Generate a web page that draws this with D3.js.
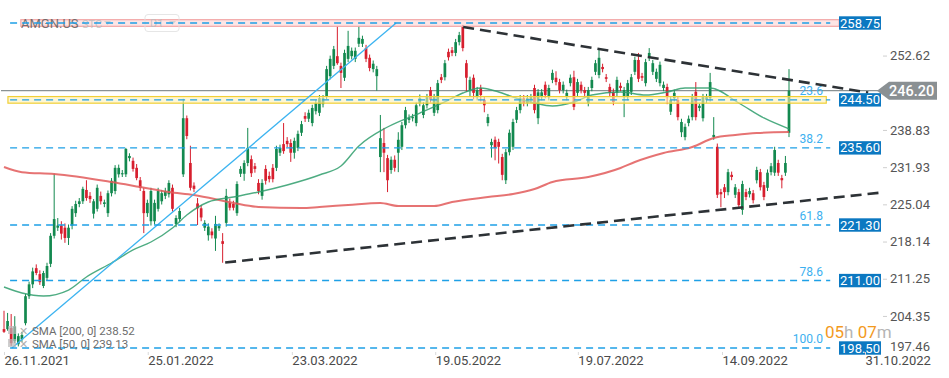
<!DOCTYPE html>
<html><head><meta charset="utf-8">
<script src="https://cdnjs.cloudflare.com/ajax/libs/d3/7.8.5/d3.min.js"></script>
<style>body{margin:0;background:#fff;}svg{display:block;font-family:Roboto,"Noto Sans",sans-serif;}</style>
</head><body><svg id="c" width="949" height="378"></svg>
<script>
// ---- data ----
const opens = [202.0,202.0,202.2,199.8,199.2,200.1,203.1,208.1,210.3,213.3,212.2,210.0,211.5,214.1,219.3,220.8,221.2,220.8,218.9,221.2,
223.5,225.2,225.7,227.8,226.7,223.4,224.3,226.7,225.2,223.5,227.2,227.6,230.7,230.7,230.7,233.7,233.2,231.9,229.6,227.6,
223.5,222.0,222.0,224.3,225.7,226.7,227.0,228.2,221.5,222.4,230.7,241.1,232.8,228.6,225.3,224.4,220.8,219.4,220.1,218.8,
220.7,218.3,221.7,225.4,225.2,223.5,230.8,230.8,232.8,233.5,232.2,229.1,226.7,231.7,230.4,231.9,231.9,234.7,236.3,236.9,
236.5,234.7,235.6,238.4,241.5,241.0,240.2,242.4,242.1,243.7,245.2,248.9,250.8,252.6,250.8,248.6,252.1,252.6,252.1,254.9,
254.9,254.1,252.3,250.2,248.9,233.9,236.5,233.7,231.5,233.4,234.7,235.8,239.8,240.8,241.1,240.2,243.9,241.7,243.5,246.3,
242.1,242.6,248.7,248.7,253.4,253.7,253.2,255.2,258.0,251.3,246.3,248.6,245.0,246.7,244.5,240.2,236.1,237.1,236.7,233.9,
229.6,234.8,235.8,240.8,242.6,244.8,243.9,244.5,246.7,241.1,245.0,247.3,245.0,248.2,248.6,247.8,246.3,245.0,247.6,248.7,
245.8,247.3,246.3,243.9,246.7,249.7,249.1,250.6,248.7,246.9,246.0,245.8,247.1,245.0,245.0,246.0,249.7,251.9,248.9,247.6,
252.3,249.7,248.4,247.6,246.7,246.9,242.3,244.8,244.5,238.5,237.6,240.2,241.3,246.0,243.0,241.1,244.5,244.8,237.6,235.8,
227.4,228.3,227.4,230.6,226.9,227.4,224.1,227.4,227.0,227.2,229.6,231.1,228.7,228.2,231.1,231.0,232.8,230.0,231.0,238.4];
const highs = [205.4,205.0,204.8,204.4,201.2,201.5,208.5,210.8,213.4,214.0,212.9,212.8,214.3,219.8,230.8,222.6,222.0,221.6,221.4,224.8,
225.8,226.3,228.4,229.6,227.4,226.1,228.8,227.5,226.0,227.7,230.0,232.4,232.5,231.5,235.6,234.6,233.8,232.6,230.2,228.2,
226.0,228.2,226.0,228.2,227.8,228.2,229.6,228.8,223.1,224.5,244.7,241.6,236.0,229.2,226.3,225.0,222.2,221.6,220.7,223.0,
221.6,219.8,228.0,226.2,225.8,229.4,232.2,233.3,239.3,234.2,232.8,229.8,229.8,232.4,231.2,232.6,236.0,236.2,240.2,237.6,
237.2,237.5,238.8,240.6,242.2,242.7,243.6,244.5,245.4,245.4,250.8,252.7,254.5,258.2,251.4,253.8,257.3,254.2,254.2,258.2,
256.4,254.7,252.9,251.8,250.8,241.7,239.3,234.3,234.0,234.2,238.5,240.4,243.2,241.8,241.9,244.0,245.5,244.1,245.6,246.9,
245.6,248.2,249.3,251.9,254.0,254.3,255.8,257.1,258.4,251.9,248.8,249.2,246.9,247.3,245.1,241.9,237.3,237.7,237.3,234.5,
235.4,239.0,241.0,243.2,245.4,245.4,245.4,245.6,247.3,246.5,246.5,247.9,247.3,250.1,249.8,248.4,247.9,246.4,249.2,249.9,
248.4,247.9,246.9,246.9,248.8,251.9,253.9,251.2,249.3,247.5,246.6,248.8,247.7,246.9,248.2,249.3,252.5,253.2,249.5,252.1,
254.1,251.9,250.3,251.6,247.9,247.5,245.1,246.4,245.1,241.0,240.1,241.6,245.6,247.8,243.8,245.6,245.6,249.5,241.3,236.4,
228.0,228.9,231.7,231.2,228.9,228.0,229.5,228.0,228.2,227.8,232.1,231.7,229.3,231.6,232.8,235.8,233.4,230.6,234.1,250.2];
const lows = [201.3,201.7,198.9,199.4,198.8,199.6,202.7,207.6,209.6,212.0,210.2,209.6,211.0,213.5,218.8,220.2,218.6,218.0,217.6,220.5,
222.8,224.6,225.2,225.8,225.4,222.5,223.8,225.1,224.6,222.8,226.6,227.0,230.1,230.2,230.2,233.1,231.2,229.6,227.6,219.8,
222.8,221.2,221.4,223.8,225.1,226.1,226.4,223.8,220.9,221.8,230.2,237.2,227.7,227.4,221.3,222.0,220.2,218.4,218.8,216.5,
220.2,214.3,221.0,224.0,224.0,223.0,230.2,229.5,232.2,230.2,231.0,227.0,226.0,228.8,229.2,229.2,231.3,234.1,234.5,235.7,
233.0,233.6,235.0,237.8,240.4,240.4,239.6,241.8,241.5,243.1,244.6,248.3,250.2,251.0,246.7,248.0,251.5,252.0,251.5,254.3,
254.3,251.5,249.8,249.6,246.2,231.1,231.1,227.4,230.8,231.2,231.1,235.2,239.2,240.2,240.5,239.6,243.3,241.1,242.9,244.0,
241.5,242.0,247.6,248.1,251.8,252.6,252.6,254.6,253.5,246.0,245.2,244.6,244.4,244.2,242.2,239.6,233.8,233.3,232.7,229.6,
228.9,234.2,235.2,240.2,242.0,243.3,243.3,243.9,242.0,240.0,244.4,244.8,244.4,247.6,247.2,245.7,245.7,244.4,247.0,242.6,
245.2,245.7,245.2,243.3,246.1,249.1,248.5,249.6,247.8,245.2,243.5,245.2,246.1,241.3,244.4,245.4,249.1,247.8,248.0,247.0,
251.7,249.1,247.8,247.0,246.1,243.7,241.7,244.2,240.7,237.6,237.0,239.6,240.7,240.7,242.4,240.5,243.9,244.2,237.1,226.3,
224.6,226.3,226.8,229.6,226.3,224.4,223.2,225.9,226.4,225.3,229.0,227.7,225.9,227.6,230.5,230.4,230.4,228.1,230.4,237.6];
const closes = [201.5,203.5,199.4,202.5,200.7,200.9,208.1,210.3,212.7,212.4,210.7,212.4,213.7,219.3,222.4,221.2,219.7,218.9,220.8,224.3,
225.2,225.7,228.0,226.3,226.1,225.7,228.2,225.7,225.5,227.2,229.5,231.9,231.9,230.9,235.4,234.1,231.7,230.0,228.2,223.5,
225.4,227.6,225.4,227.6,227.2,227.6,229.1,224.3,222.6,223.9,241.1,237.8,228.2,228.0,224.4,222.7,221.7,221.0,219.4,221.5,
221.1,217.8,226.7,224.5,224.5,228.9,231.7,232.8,235.6,230.9,231.7,227.6,229.1,229.5,229.8,229.8,235.4,235.6,235.0,236.3,
234.7,236.9,238.2,240.0,241.0,242.1,243.0,243.9,244.8,244.8,250.2,252.1,253.9,251.3,249.5,253.2,254.5,253.6,253.6,256.0,
255.8,252.1,250.4,251.2,250.2,237.4,234.7,229.6,233.4,231.9,237.1,239.8,242.6,241.1,241.3,243.5,244.8,243.5,245.0,244.5,
245.0,247.6,248.2,251.3,252.4,253.2,255.2,256.5,254.1,248.6,248.2,245.8,246.3,245.4,243.5,241.3,236.7,235.6,235.8,230.6,
234.8,238.4,240.4,242.6,244.8,243.9,244.8,245.0,242.6,245.9,245.9,245.4,246.7,249.5,247.8,246.3,247.3,245.8,248.6,243.2,
247.8,246.3,245.8,246.3,248.2,251.3,252.3,250.2,248.4,245.8,244.1,248.2,246.7,246.3,247.6,248.7,251.9,248.4,248.6,251.5,
253.2,251.3,249.7,251.0,247.3,245.0,244.5,245.8,241.3,240.4,239.5,241.0,245.0,241.3,243.4,245.0,245.0,247.8,238.0,226.9,
227.0,227.4,231.1,230.2,228.3,225.0,228.9,226.5,227.6,225.9,231.5,228.3,226.5,231.0,232.2,235.2,231.0,229.6,232.8,246.2];

const tickIdx = [0, 40.1, 80.3, 120.3, 160.1, 200.3, 240.2];
const tickLabels = ["26.11.2021","25.01.2022","23.03.2022","19.05.2022","19.07.2022","14.09.2022","31.10.2022"];
const yTicks = [252.62, 238.83, 231.93, 225.04, 218.14, 211.25, 204.35, 197.46];

const sma200Idx = [0,5,14,30,38,46,53,64,71,83,88,96,105,110,120,125,135,142,148,153,163,172,176,184,192,198,204,210,219];
const sma200Val = [232.05,231.1,230.75,229.27,228.35,227.42,226.86,225.38,224.64,224.45,224.64,225.01,225.38,224.82,224.82,225.57,226.49,227.05,227.97,229.27,230.2,231.87,232.98,234.65,235.76,237.43,237.99,238.36,238.52];
const sma50Idx = [0,5,11,18,23,30,36,41,47,51,57,64,71,79,88,94,99,107,116,124,128,133,138,142,148,153,159,164,172,179,185,190,197,205,212,219];
const sma50Val = [209.81,208.7,208.14,209.25,211.66,214.26,216.67,218.15,220.75,223.16,225.57,226.49,227.42,228.72,230.57,232.24,235.95,239.47,242.06,244.47,245.77,246.7,245.96,245.03,243.92,243.36,244.1,245.4,245.96,245.4,245.96,246.7,246.7,243.92,241.14,239.13];

const levelVals = [258.75, 244.50, 235.60, 221.30, 211.00, 198.50];
const levelTexts = ["258.75","244.50","235.60","221.30","211.00","198.50"];
const fibTexts = ["", "23.6", "38.2", "61.8", "78.6", "100.0"];
const levelStart = 1.7, levelEnd = 230.5;
const bandVals = [258.75, 244.50];
const lastPrice = 246.20;

const upperTrend = {i: [128.1, 241.1], v: [258.0, 245.85]};
const lowerTrend = {i: [61.7, 244.4], v: [214.35, 227.29]};
const blueTrend = {i: [2.2, 109.4], v: [198.5, 258.75]};

const smaLabels = ["SMA  [200,  0]  238.52", "SMA  [50,  0]  239.13"];

// ---- chart ----
const svg = d3.select("#c");
const x = d3.scaleLinear().domain([0, 219]).range([4, 789]);
const y = d3.scaleLinear().domain([198.5, 258.75]).range([348, 23]);

const GREEN = "#13894f", RED = "#d71f2e", BLUE = "#1ea0e6";

// current price line
svg.append("line").attr("x1", 1).attr("x2", 878).attr("y1", y(lastPrice)).attr("y2", y(lastPrice))
  .attr("stroke", "#8a9294").attr("stroke-width", 1.3);

// candles
const idx = d3.range(opens.length);
const cg = svg.append("g");
cg.selectAll("line.w").data(idx).join("line")
  .attr("x1", i => x(i)).attr("x2", i => x(i))
  .attr("y1", i => y(highs[i])).attr("y2", i => y(lows[i]))
  .attr("stroke", i => closes[i] >= opens[i] ? GREEN : RED).attr("stroke-width", 1);
cg.selectAll("rect.b").data(idx).join("rect")
  .attr("x", i => x(i) - 1.35).attr("width", 2.7)
  .attr("y", i => y(Math.max(opens[i], closes[i])))
  .attr("height", i => Math.max(1, Math.abs(y(opens[i]) - y(closes[i]))))
  .attr("fill", i => closes[i] >= opens[i] ? GREEN : RED);

// SMA lines
const lineGen = (ix, vals) => d3.line().x((d, k) => x(ix[k])).y((d, k) => y(vals[k])).curve(d3.curveMonotoneX)(vals);
svg.append("path").attr("d", lineGen(sma200Idx, sma200Val)).attr("fill", "none").attr("stroke", "#e25a5a").attr("stroke-width", 2).attr("stroke-opacity", 0.85);
svg.append("path").attr("d", lineGen(sma50Idx, sma50Val)).attr("fill", "none").attr("stroke", "#2f9d6c").attr("stroke-width", 1.4).attr("stroke-opacity", 0.85);

// bands
const bandColors = [{f: "#fbd3d3", s: "#f2a5a5", x0: 4.7, x1: 233}, {f: "#fbf0b8", s: "#f0cf35", x0: 1.1, x1: 229.4}];
bandVals.forEach((v, k) => {
  const b = bandColors[k];
  svg.append("rect").attr("x", x(b.x0)).attr("width", x(b.x1) - x(b.x0))
    .attr("y", y(v) - 3.3).attr("height", 6.6)
    .attr("fill", b.f).attr("fill-opacity", 0.6).attr("stroke", b.s).attr("stroke-width", 1.2);
});

// header (drawn over pink band, faded)
const hdr = svg.append("g").attr("opacity", 0.85);
hdr.append("text").attr("x", 21).attr("y", 27.5).attr("font-size", 13).attr("fill", "#5e5e5e").text("AMGN.US");
hdr.append("text").attr("x", 82).attr("y", 27.5).attr("font-size", 11).attr("fill", "#bdbdbd").text("STC");
hdr.append("path").attr("d", "M104,21 L111,21 L107.5,25 Z").attr("fill", "#cfcfcf");
hdr.append("rect").attr("x", 145).attr("y", 14.5).attr("width", 34).attr("height", 17).attr("rx", 3).attr("fill", "none").attr("stroke", "#e2e2e2");
hdr.append("text").attr("x", 150).attr("y", 27).attr("font-size", 11).attr("fill", "#bdbdbd").text("D1");
hdr.append("path").attr("d", "M169,21 L176,21 L172.5,25 Z").attr("fill", "#cfcfcf");

// blue trend line
svg.append("line").attr("x1", x(blueTrend.i[0])).attr("y1", y(blueTrend.v[0]))
  .attr("x2", x(blueTrend.i[1])).attr("y2", y(blueTrend.v[1]))
  .attr("stroke", "#3bb3f0").attr("stroke-width", 1.3);

// level dashed lines
levelVals.forEach((v, k) => {
  svg.append("line").attr("x1", x(levelStart)).attr("x2", x(levelEnd)).attr("y1", y(v)).attr("y2", y(v))
    .attr("stroke", BLUE).attr("stroke-width", 1.4).attr("stroke-dasharray", "7,5");
  if (fibTexts[k]) svg.append("text").attr("x", 823).attr("y", y(v) - 5).attr("text-anchor", "end")
    .attr("font-size", 12).attr("fill", "#3cb0f0").text(fibTexts[k]);
});

// black dashed trendlines
[upperTrend, lowerTrend].forEach(t => {
  svg.append("line").attr("x1", x(t.i[0])).attr("y1", y(t.v[0])).attr("x2", x(t.i[1])).attr("y2", y(t.v[1]))
    .attr("stroke", "#2d3236").attr("stroke-width", 2.6).attr("stroke-dasharray", "11,6");
});

// right axis
const ya = svg.append("g").attr("transform", "translate(883,0)")
  .call(d3.axisRight(y).tickValues(yTicks).tickSize(4).tickPadding(3).tickFormat(d3.format(".2f")));
ya.select(".domain").remove();
ya.selectAll(".tick line").attr("stroke", "#cfcfcf");
ya.selectAll(".tick text").attr("font-size", 13).attr("fill", "#555").attr("font-family", "Roboto,sans-serif");
ya.selectAll(".tick").attr("transform", d => `translate(0,${Math.min(y(d), 347)})`);
ya.selectAll(".tick").filter(d => y(d) > 347).select("line").remove();

// level boxes
levelVals.forEach((v, k) => {
  svg.append("rect").attr("x", 839).attr("y", y(v) - 6.7).attr("width", 42).attr("height", 13.4).attr("fill", "#0b78c1");
  svg.append("text").attr("x", 860).attr("y", y(v) + 4.5).attr("text-anchor", "middle")
    .attr("font-size", 13).attr("fill", "#fff").text(levelTexts[k]);
});

// current price label
const py = y(lastPrice);
svg.append("path").attr("d", `M877,${py} L889,${py - 9} L937,${py - 9} L937,${py + 9} L889,${py + 9} Z`).attr("fill", "#8a9093");
svg.append("text").attr("x", 889).attr("y", py + 5).attr("font-size", 14.5).attr("font-weight", 500).attr("fill", "#fff").text(lastPrice.toFixed(2));

// bottom axis
const xa = svg.append("g").attr("transform", "translate(0,352)")
  .call(d3.axisBottom(x).tickValues(tickIdx).tickSize(3).tickPadding(1).tickFormat((d, k) => tickLabels[k]));
xa.select(".domain").remove();
xa.selectAll(".tick line").attr("stroke", "#dadada");
xa.selectAll(".tick text").attr("text-anchor", "start").attr("font-size", 13).attr("fill", "#4a4a4a").attr("font-family", "Roboto,sans-serif");

// SMA legend
smaLabels.forEach((t, k) => {
  const yy = 335 + k * 13;
  svg.append("rect").attr("x", 8).attr("y", yy - 9).attr("width", 8).attr("height", 8).attr("fill", "#b9b9b9").attr("opacity", 0.7);
  svg.append("text").attr("x", 19).attr("y", yy).attr("font-size", 11).attr("fill", "#b0b0b0").text("✕");
  svg.append("text").attr("x", 32).attr("y", yy).attr("font-size", 11.5).attr("fill", "#6d6d6d").text(t);
});

// countdown
const ct = svg.append("text").attr("x", 825).attr("y", 338).attr("font-size", 17);
ct.append("tspan").attr("fill", "#f39a1e").text("05");
ct.append("tspan").attr("fill", "#b5b5b5").text("h ");
ct.append("tspan").attr("fill", "#f39a1e").text("07");
ct.append("tspan").attr("fill", "#b5b5b5").text("m");
</script></body></html>
